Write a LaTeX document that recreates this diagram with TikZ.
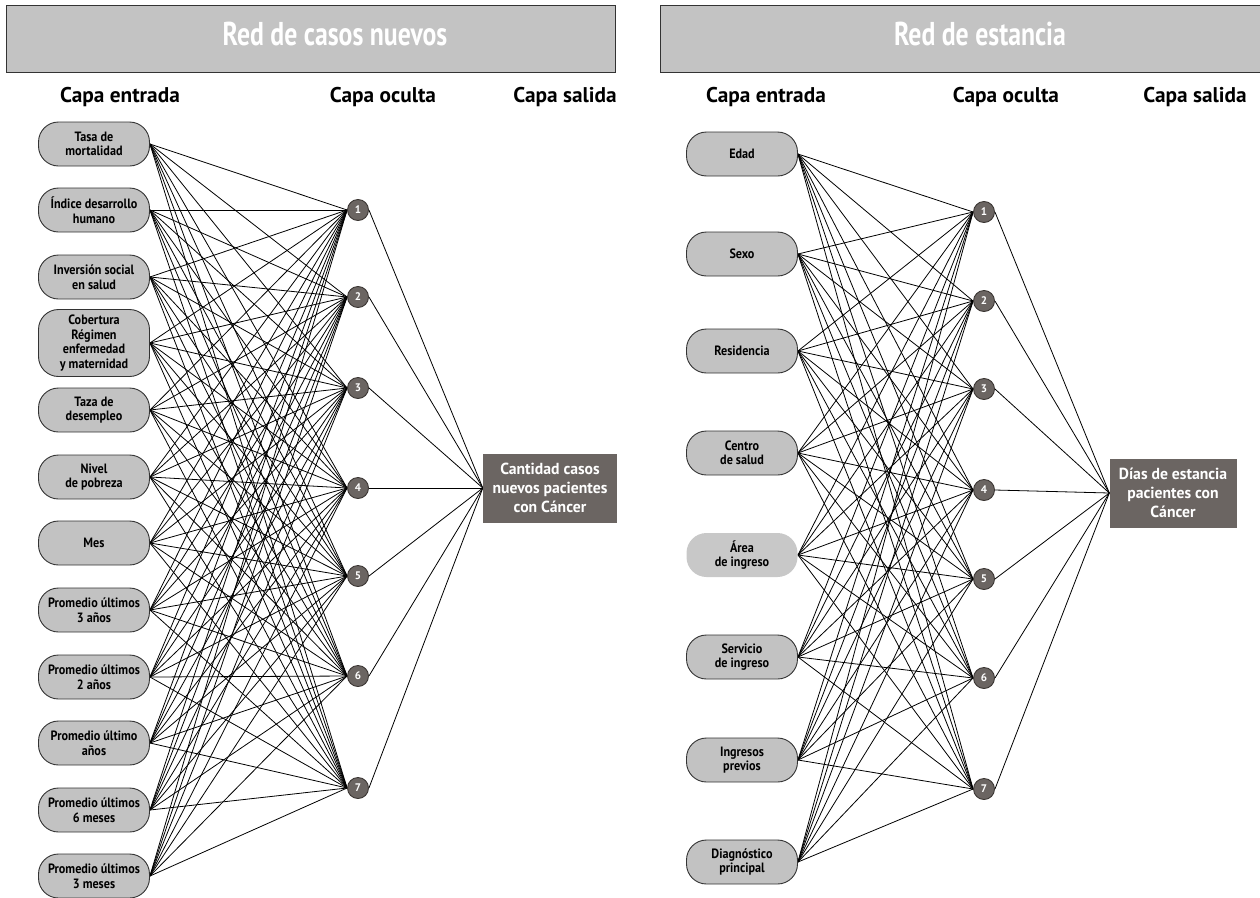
\documentclass[tikz,border=0pt]{standalone}
\usepackage{fontspec}
\setmainfont{PT Sans}
\newfontfamily\titlefont[FakeStretch=0.78]{PT Sans}
\newfontfamily\nodefont[FakeStretch=0.9]{PT Sans}
\newfontfamily\outfont[FakeStretch=0.98]{PT Sans}
\usetikzlibrary{backgrounds}
\definecolor{hdrfill}{HTML}{C3C3C3}
\definecolor{infill}{HTML}{C2C2C2}
\definecolor{lightfill}{HTML}{C8C8C8}
\definecolor{darkfill}{HTML}{6B6562}
\definecolor{darkedge}{HTML}{3B3633}
\definecolor{edgegray}{HTML}{333333}
\tikzset{
  header/.style={draw=edgegray, line width=1pt, fill=hdrfill},
  titletext/.style={text=white, font=\titlefont\bfseries\fontsize{33}{36}\selectfont},
  colhead/.style={font=\bfseries\fontsize{21.3}{24}\selectfont},
  inbox/.style={draw=edgegray, line width=0.9pt, fill=infill, rounded corners=20pt,
    minimum width=111pt, minimum height=44pt, inner sep=1pt, align=center,
    font=\nodefont\bfseries\fontsize{13.5}{14.5}\selectfont},
  hid/.style={circle, draw=darkedge, line width=0.9pt, fill=darkfill, minimum size=21pt, inner sep=0pt,
    text=white, font=\bfseries\fontsize{11}{12}\selectfont},
  outbox/.style={fill=darkfill, minimum height=69pt, inner sep=1pt, align=center, text=white,
    font=\outfont\bfseries\fontsize{16}{19}\selectfont},
  conn/.style={line width=0.8pt, black}
}
\begin{document}
\begin{tikzpicture}[x=1pt,y=-1pt]
\useasboundingbox (0,0) rectangle (1260,897);
% headers
\draw[header] (6,5) rectangle (615,72);
\node[titletext] (tl) at (335,34) {Red de casos nuevos};
\draw[header] (660,5) rectangle (1264,72);
\node[titletext] (tr) at (980,34) {Red de estancia};
% column headings
\node[colhead] (ce1) at (120,97) {Capa entrada};
\node[colhead] (co1) at (383,97) {Capa oculta};
\node[colhead] (cs1) at (565,97) {Capa salida};
\node[colhead] (ce2) at (766,97) {Capa entrada};
\node[colhead] (co2) at (1006,97) {Capa oculta};
\node[colhead] (cs2) at (1195,97) {Capa salida};
% left inputs
\node[inbox] (L1) at (94,144) {Tasa de\\mortalidad};
\node[inbox] (L2) at (94,210) {Índice desarrollo\\humano};
\node[inbox] (L3) at (94,277) {Inversión social\\en salud};
\node[inbox, minimum height=67pt] (L4) at (94,343) {Cobertura\\Régimen\\enfermedad\\y maternidad};
\node[inbox] (L5) at (94,410) {Taza de\\desempleo};
\node[inbox] (L6) at (94,477) {Nivel\\de pobreza};
\node[inbox] (L7) at (94,543) {Mes};
\node[inbox] (L8) at (94,610) {Promedio últimos\\3 años};
\node[inbox] (L9) at (94,677) {Promedio últimos\\2 años};
\node[inbox] (L10) at (94,743) {Promedio último\\años};
\node[inbox] (L11) at (94,810) {Promedio últimos\\6 meses};
\node[inbox] (L12) at (94,876) {Promedio últimos\\3 meses};
% left hidden
\foreach \i/\y in {1/210,2/297,3/388,4/488,5/576,6/676,7/788}
  \node[hid] (LH\i) at (358,\y) {\i};
\node[outbox, minimum width=134pt] (LO) at (550,488) {Cantidad casos\\nuevos pacientes\\con Cáncer};
% right inputs
\node[inbox] (R1) at (742,154) {Edad};
\node[inbox] (R2) at (742,254) {Sexo};
\node[inbox] (R3) at (742,351) {Residencia};
\node[inbox] (R4) at (742,453) {Centro\\de salud};
\node[inbox, draw=none, fill=lightfill] (R5) at (742,555) {Área\\de ingreso};
\node[inbox] (R6) at (742,657) {Servicio\\de ingreso};
\node[inbox] (R7) at (742,760) {Ingresos\\previos};
\node[inbox] (R8) at (742,862) {Diagnóstico\\principal};
\foreach \i/\y in {1/212,2/301,3/389,4/490,5/579,6/678,7/789}
  \node[hid] (RH\i) at (984,\y) {\i};
\node[outbox, minimum width=127pt] (RO) at (1173,493) {Días de estancia\\pacientes con\\Cáncer};
% connectors
\begin{scope}[on background layer]
\foreach \a in {1,...,12}
  \foreach \b in {1,...,7}
    \draw[conn] (L\a.east) -- (LH\b.west);
\foreach \b in {1,...,7}
  \draw[conn] (LH\b.east) -- (LO.west);
\foreach \a in {1,...,8}
  \foreach \b in {1,...,7}
    \draw[conn] (R\a.east) -- (RH\b.west);
\foreach \b in {1,...,7}
  \draw[conn] (RH\b.east) -- (RO.west);
\end{scope}
\end{tikzpicture}
\end{document}
